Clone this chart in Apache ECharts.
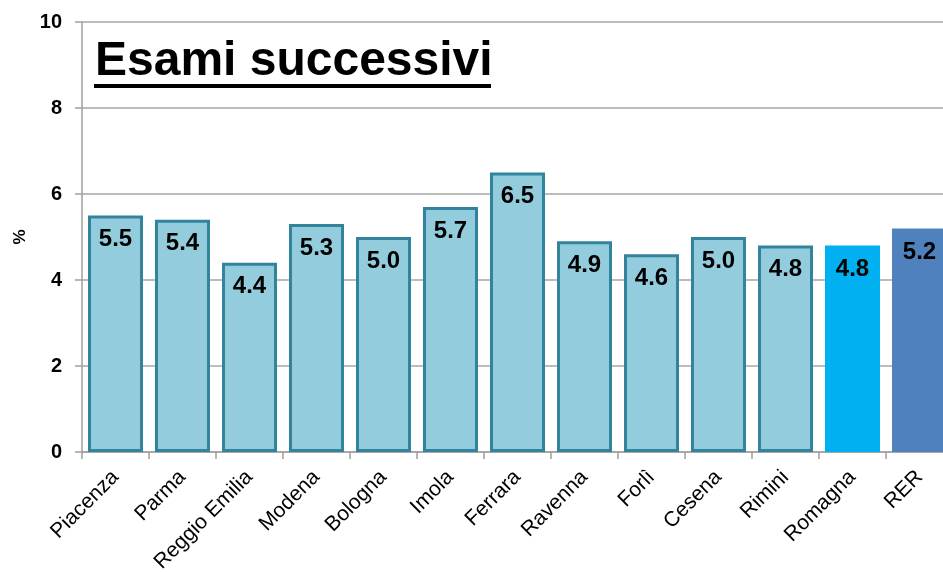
<!DOCTYPE html>
<html>
<head>
<meta charset="utf-8">
<script src="https://cdn.jsdelivr.net/npm/echarts@6/dist/echarts.min.js"></script>
<style>
  html, body { margin: 0; padding: 0; background: #fff; }
  #chart { width: 943px; height: 572px; }
</style>
</head>
<body>
<div id="chart"></div>
<script>
// Categories and percentages shown on the bars
const categories = ['Piacenza', 'Parma', 'Reggio Emilia', 'Modena', 'Bologna', 'Imola', 'Ferrara',
  'Ravenna', 'Forlì', 'Cesena', 'Rimini', 'Romagna', 'RER'];
const values = [5.5, 5.4, 4.4, 5.3, 5.0, 5.7, 6.5, 4.9, 4.6, 5.0, 4.8, 4.8, 5.2];
// Bar group: 'area' for single districts, then aggregated totals
const groups = ['area', 'area', 'area', 'area', 'area', 'area', 'area', 'area', 'area', 'area', 'area', 'romagna', 'rer'];
const yTicks = [0, 2, 4, 6, 8, 10];

const styles = {
  area: { color: '#93cddd', borderColor: '#31849b', borderWidth: 3 },
  romagna: { color: '#00b0f0', borderWidth: 0 },
  rer: { color: '#4f81bd', borderWidth: 0 }
};

const chart = echarts.init(document.getElementById('chart'), null, { renderer: 'canvas' });

const fontFamily = 'Liberation Sans, Arial, sans-serif';

chart.setOption({
  animation: false,
  backgroundColor: '#ffffff',
  grid: { left: 82, top: 22, right: -10, bottom: 120, containLabel: false, outerBoundsMode: 'none' },
  xAxis: {
    type: 'category',
    data: categories,
    axisLine: { show: true, lineStyle: { color: '#a0a0a0', width: 1.5 } },
    axisTick: { show: true, alignWithLabel: false, length: 7, lineStyle: { color: '#a0a0a0', width: 1.5 } },
    axisLabel: {
      rotate: 45, interval: 0, margin: 22,
      fontFamily, fontSize: 21, color: '#000'
    },
    splitLine: { show: false }
  },
  yAxis: {
    type: 'value',
    min: yTicks[0],
    max: yTicks[yTicks.length - 1],
    interval: 2,
    name: '%',
    nameLocation: 'middle',
    nameGap: 49,
    nameRotate: 90,
    nameTextStyle: { fontFamily, fontSize: 17, fontWeight: 'bold', color: '#000' },
    axisLine: { show: true, lineStyle: { color: '#a0a0a0', width: 1.5 } },
    axisTick: { show: true, inside: false, length: 7, lineStyle: { color: '#a0a0a0', width: 1.5 } },
    axisLabel: { margin: 20, fontFamily, fontSize: 20, fontWeight: 'bold', color: '#000' },
    splitLine: { show: true, lineStyle: { color: '#a6a6a6', width: 1.5 } }
  },
  graphic: [
    {
      type: 'text',
      left: 95,
      top: 38,
      style: {
        text: 'Esami successivi',
        fontFamily, fontSize: 48, fontWeight: 'bold', fill: '#000'
      }
    },
    {
      type: 'rect',
      left: 94,
      top: 84,
      shape: { width: 397, height: 4 },
      style: { fill: '#000' }
    }
  ],
  series: [{
    type: 'bar',
    barWidth: 55,
    data: values.map((v, i) => ({ value: v, itemStyle: styles[groups[i]] })),
    label: {
      show: true,
      position: 'insideTop',
      distance: 12,
      formatter: p => p.value.toFixed(1),
      fontFamily, fontSize: 24, fontWeight: 'bold', color: '#000'
    }
  }]
});
</script>
</body>
</html>
